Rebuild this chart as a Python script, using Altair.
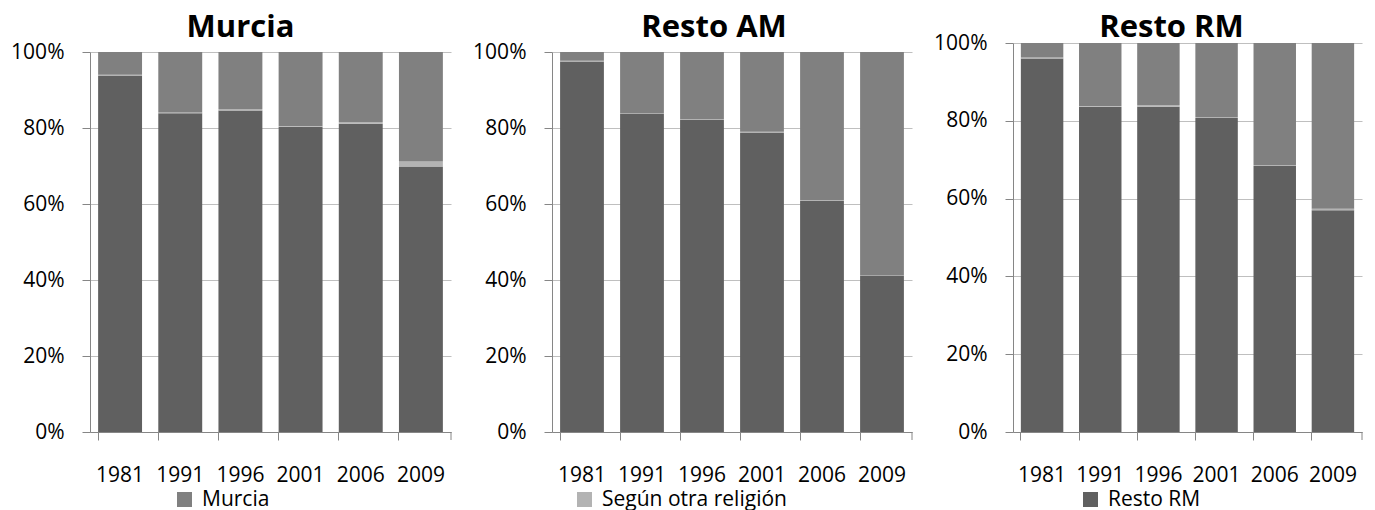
import altair as alt
import pandas as pd

years = ["1981", "1991", "1996", "2001", "2006", "2009"]
series = ["Resto RM", "Según otra religión", "Murcia"]  # bottom (dark), middle (light), top (medium)
colors = ["#606060", "#B3B3B3", "#808080"]

panel_titles = ["Murcia", "Resto AM", "Resto RM"]
legend_items = ["Murcia", "Según otra religión", "Resto RM"]

murcia_dark = [93.7, 83.9, 84.6, 80.3, 81.1, 69.9]
murcia_light = [0.3, 0.2, 0.4, 0.2, 0.5, 1.3]
murcia_medium = [6.0, 15.9, 15.0, 19.5, 18.4, 28.8]

restoam_dark = [97.5, 83.7, 82.2, 78.7, 60.8, 41.1]
restoam_light = [0.2, 0.1, 0.1, 0.3, 0.2, 0.1]
restoam_medium = [2.3, 16.2, 17.7, 21.0, 39.0, 58.8]

restorm_dark = [96.0, 83.6, 83.6, 80.7, 68.4, 57.0]
restorm_light = [0.3, 0.2, 0.4, 0.3, 0.2, 0.4]
restorm_medium = [3.7, 16.2, 16.0, 19.0, 31.4, 42.6]

FONT = "Open Sans"
AXIS_GRAY = "#868686"
GRID_GRAY = "#BFBFBF"
H = 389


def panel(title, dark, light, medium, legend_item, width, top_gap,
          title_dx, title_offset, leg_x, leg_y):
    rows = []
    for i, yr in enumerate(years):
        for k, (name, vals) in enumerate(zip(series, [dark, light, medium])):
            rows.append({"year": yr, "series": name, "value": vals[i], "ord": k})
    df = pd.DataFrame(rows)

    bars = alt.Chart(df).mark_bar().encode(
        x=alt.X(
            "year:N", sort=years,
            scale=alt.Scale(paddingInner=0.27, paddingOuter=0.135),
            axis=alt.Axis(
                title=None, labelAngle=0, bandPosition=0, tickSize=8,
                tickColor=AXIS_GRAY, domainColor=AXIS_GRAY, grid=False,
                labelFont=FONT, labelFontSize=21, labelColor="black",
                labelPadding=24,
            ),
        ),
        y=alt.Y(
            "value:Q", stack="zero",
            scale=alt.Scale(domain=[0, 100], nice=False, range=[H, top_gap]),
            axis=alt.Axis(
                title=None, values=[0, 20, 40, 60, 80, 100],
                labelExpr="datum.value + '%'", tickSize=8,
                tickColor=AXIS_GRAY, domainColor=AXIS_GRAY,
                gridColor=GRID_GRAY, labelFont=FONT, labelFontSize=21,
                labelColor="black", labelPadding=18,
            ),
        ),
        color=alt.Color(
            "series:N",
            scale=alt.Scale(domain=series, range=colors),
            legend=alt.Legend(
                values=[legend_item], orient="none", legendX=leg_x, legendY=leg_y,
                direction="horizontal", title=None, symbolType="square",
                symbolSize=225, symbolStrokeWidth=0, labelFont=FONT,
                labelFontSize=21, labelColor="black", labelOffset=7, padding=0,
                labelLimit=0,
            ),
        ),
        order=alt.Order("ord:Q", sort="ascending"),
    )

    end_tick = alt.Chart(pd.DataFrame({"a": [0]})).mark_rule(color=AXIS_GRAY).encode(
        x=alt.value(width), y=alt.value(H), y2=alt.value(H + 8)
    )

    return alt.layer(bars, end_tick).properties(
        width=width, height=H,
        title=alt.TitleParams(
            text=title, font=FONT, fontSize=31, fontWeight="bold", color="black",
            anchor="middle", dx=title_dx, offset=title_offset, baseline="top",
        ),
    )


p1 = panel(panel_titles[0], murcia_dark, murcia_light, murcia_medium, legend_items[0],
           361, 9, -30, -2.5, 84, 446)
p2 = panel(panel_titles[1], restoam_dark, restoam_light, restoam_medium, legend_items[1],
           360, 9, -18, -2.5, 22, 446)
p3 = panel(panel_titles[2], restorm_dark, restorm_light, restorm_medium, legend_items[2],
           349, 0, -16, -11.5, 67, 446)

chart = (
    alt.hconcat(p1, p2, p3, spacing=20)
    .resolve_scale(color="independent")
    .resolve_legend(color="independent")
    .properties(padding={"left": 2, "top": 3, "right": 0, "bottom": 0})
    .configure_view(stroke=None)
)

chart.save("out.html", embed_options={"renderer": "svg", "actions": False})
